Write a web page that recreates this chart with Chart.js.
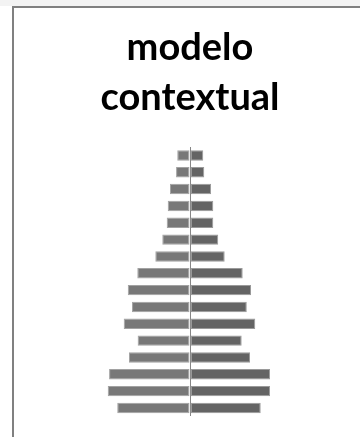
<!DOCTYPE html>
<html>
<head>
<meta charset="utf-8">
<script src="https://cdn.jsdelivr.net/npm/chart.js@4"></script>
<style>
  html, body { margin: 0; padding: 0; background: #fff; }
  body { width: 360px; height: 437px; overflow: hidden; position: relative; }
  .strip { position: absolute; left: 0; top: 0; width: 360px; height: 6px; background: #f3f3f3; }
  .box {
    position: absolute; left: 12px; top: 6px; width: 346px; height: 429px;
    border-left: 2px solid #808080; border-top: 2px solid #808080; background: #fff;
  }
  canvas { display: block; }
</style>
</head>
<body>
<div class="strip"></div>
<div class="box"><canvas id="pyramid" width="346" height="429"></canvas></div>
<script>
// grupos de edad (arriba = mayores)
const ageGroups = ['75+', '70-74', '65-69', '60-64', '55-59', '50-54', '45-49', '40-44',
                   '35-39', '30-34', '25-29', '20-24', '15-19', '10-14', '5-9', '0-4'];
// lado izquierdo (se dibuja en negativo)
const leftValues = [7.5, 8.2, 11.8, 13.1, 13.7, 16.3, 20.4, 31.0, 36.6, 34.1, 39.0, 30.8, 35.9, 47.6, 48.4, 42.8];
// lado derecho
const rightValues = [7.8, 8.4, 12.4, 13.7, 13.7, 16.6, 20.4, 31.0, 35.9, 33.4, 38.4, 30.4, 35.3, 47.1, 47.1, 41.6];
const titleLines = ['modelo', 'contextual'];

const ctx = document.getElementById('pyramid').getContext('2d');
new Chart(ctx, {
    type: 'bar',
    data: {
        labels: ageGroups,
        datasets: [{
            label: 'izquierda',
            data: leftValues.map(v => -v),
            backgroundColor: '#787878',
            borderColor: '#a2a2a2',
            borderWidth: 1,
            borderSkipped: false,
            barPercentage: 0.62,
            categoryPercentage: 1
        }, {
            label: 'derecha',
            data: rightValues,
            backgroundColor: '#646464',
            borderColor: '#9a9a9a',
            borderWidth: 1,
            borderSkipped: false,
            barPercentage: 0.62,
            categoryPercentage: 1
        }]
    },
    options: {
        indexAxis: 'y',
        responsive: false,
        animation: false,
        layout: { padding: { left: 6, right: 0, top: 0, bottom: 20.6 } },
        scales: {
            x: {
                stacked: true,
                min: -100,
                max: 100,
                ticks: { display: false, stepSize: 20 },
                border: { display: false },
                grid: {
                    drawTicks: false,
                    // solo la línea del eje central
                    color: c => c.tick && c.tick.value === 0 ? '#868686' : 'rgba(0,0,0,0)',
                    lineWidth: 1
                }
            },
            y: {
                stacked: true,
                display: false
            }
        },
        plugins: {
            legend: { display: false },
            tooltip: { enabled: false },
            title: {
                display: true,
                text: titleLines,
                color: '#000',
                font: { family: 'Lato', weight: 'bold', size: 38, lineHeight: 50 / 38 },
                padding: { top: 15, bottom: 24 }
            }
        }
    }
});
</script>
</body>
</html>
